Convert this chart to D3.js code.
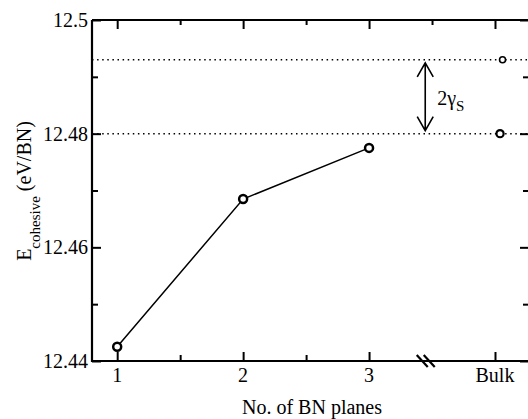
<!DOCTYPE html>
<html lang="en">
<head>
<meta charset="utf-8">
<script src="https://cdn.jsdelivr.net/npm/d3@7"></script>
<style>
  body { margin: 0; background: #fff; }
  svg text { font-family: "Liberation Serif", "Times New Roman", Times, "DejaVu Serif", serif; }
</style>
</head>
<body>
<script>
// data
var planes = [1, 2, 3];
var energy = [12.4425, 12.4685, 12.4775];
var bulkX = [4.06, 4.04];
var bulkE = [12.493, 12.48];
var refLines = [12.493, 12.48];
var xMajor = [1, 2, 3, 4];
var xLabels = ["1", "2", "3", "Bulk"];
var xMinor = [1.5, 2.5];
var yMajor = [12.44, 12.46, 12.48, 12.5];
var yLabels = ["12.44", "12.46", "12.48", "12.5"];
var yMinor = [12.45, 12.47, 12.49];
var breakAt = 3.45;

var W = 528, H = 419;
var padLeft = 92, padTop = 20, padRight = 529, padBottom = 361;
var serif = "'Liberation Serif', 'Times New Roman', Times, 'DejaVu Serif', serif";

var svg = d3.select("body").append("svg")
    .attr("width", W)
    .attr("height", H)
    .style("display", "block");

var x = d3.scaleLinear().domain([0.8, 4.27]).range([padLeft, padRight]);
var y = d3.scaleLinear().domain([12.44, 12.5]).range([padBottom, padTop]);

/*
  dotted reference lines
*/
svg.selectAll(".ref")
    .data(refLines)
    .enter()
    .append("line")
    .attr("class", "ref")
    .attr("x1", padLeft)
    .attr("x2", W)
    .attr("y1", function(d){ return y(d); })
    .attr("y2", function(d){ return y(d); })
    .style("stroke", "#000")
    .style("stroke-width", 1.5)
    .style("stroke-dasharray", "1.5,3.6");

/*
  axes: bottom/left with labels, top/right with ticks only
*/
function tickAxis(axis, size, vals) {
    return axis.tickValues(vals).tickSize(size).tickFormat("");
}

var bottomAxis = svg.append("g").attr("transform", "translate(0," + padBottom + ")");
bottomAxis.call(tickAxis(d3.axisTop(x), 9, xMajor));
bottomAxis.append("g").call(tickAxis(d3.axisTop(x), 6, xMinor));

var topAxis = svg.append("g").attr("transform", "translate(0," + padTop + ")");
topAxis.call(tickAxis(d3.axisBottom(x), 9, [1, 2, 3, 4]));
topAxis.append("g").call(tickAxis(d3.axisBottom(x), 5, [1.5, 2.5, 3.5]));

var leftAxis = svg.append("g").attr("transform", "translate(" + padLeft + ",0)");
leftAxis.call(tickAxis(d3.axisRight(y), 9, yMajor));
leftAxis.append("g").call(tickAxis(d3.axisRight(y), 6, yMinor));

var rightAxis = svg.append("g").attr("transform", "translate(" + padRight + ",0)");
rightAxis.call(tickAxis(d3.axisLeft(y), 9, yMajor));
rightAxis.append("g").call(tickAxis(d3.axisLeft(y), 6, yMinor));

svg.selectAll(".domain").remove();
svg.selectAll(".tick line").style("stroke", "#000").style("stroke-width", 2);

// frame
svg.append("path")
    .attr("d", "M" + padLeft + "," + padTop + "H" + padRight +
               "M" + padLeft + "," + padTop + "V" + padBottom + "H" + padRight)
    .style("fill", "none")
    .style("stroke", "#000")
    .style("stroke-width", 2.2);

// tick labels
svg.selectAll(".xlab")
    .data(xMajor)
    .enter()
    .append("text")
    .attr("x", function(d){ return x(d); })
    .attr("y", 382)
    .attr("text-anchor", "middle")
    .style("font-family", serif)
    .style("font-size", "20px")
    .text(function(d, i){ return xLabels[i]; });

svg.selectAll(".ylab")
    .data(yMajor)
    .enter()
    .append("text")
    .attr("x", padLeft - 4)
    .attr("y", function(d){ return y(d); })
    .attr("dy", "0.35em")
    .attr("text-anchor", "end")
    .style("font-family", serif)
    .style("font-size", "20px")
    .text(function(d, i){ return yLabels[i]; });

// axis break marks
var bx = x(breakAt);
[-3.5, 3.5].forEach(function(off){
    svg.append("line")
        .attr("x1", bx + off - 5.5)
        .attr("y1", padBottom - 6)
        .attr("x2", bx + off + 5.5)
        .attr("y2", padBottom + 6)
        .style("stroke", "#000")
        .style("stroke-width", 2.2);
});

/*
  data line and markers
*/
var pts = planes.map(function(p, i){ return [p, energy[i]]; });
svg.append("path")
    .datum(pts)
    .attr("d", d3.line().x(function(d){ return x(d[0]); }).y(function(d){ return y(d[1]); }))
    .style("fill", "none")
    .style("stroke", "#000")
    .style("stroke-width", 1.5);

svg.selectAll(".pt")
    .data(pts)
    .enter()
    .append("circle")
    .attr("cx", function(d){ return x(d[0]); })
    .attr("cy", function(d){ return y(d[1]); })
    .attr("r", 4)
    .style("fill", "#fff")
    .style("stroke", "#000")
    .style("stroke-width", 2.5);

svg.selectAll(".bulk")
    .data(bulkX)
    .enter()
    .append("circle")
    .attr("cx", function(d){ return x(d); })
    .attr("cy", function(d, i){ return y(bulkE[i]); })
    .attr("r", function(d, i){ return i === 0 ? 3 : 3.6; })
    .style("fill", "#fff")
    .style("stroke", "#000")
    .style("stroke-width", function(d, i){ return i === 0 ? 1.6 : 2.2; });

/*
  double arrow for 2 gamma_s
*/
var ax = x(breakAt) - 0.5;
var ay1 = y(refLines[0]) + 3, ay2 = y(refLines[1]) - 3;
svg.append("path")
    .attr("d", "M" + ax + "," + ay1 + "V" + ay2 +
               "M" + (ax - 8) + "," + (ay1 + 14) + "L" + ax + "," + ay1 + "L" + (ax + 8) + "," + (ay1 + 14) +
               "M" + (ax - 8) + "," + (ay2 - 14) + "L" + ax + "," + ay2 + "L" + (ax + 8) + "," + (ay2 - 14))
    .style("fill", "none")
    .style("stroke", "#000")
    .style("stroke-width", 1.6);

var gl = svg.append("text")
    .attr("x", ax + 12)
    .attr("y", 105)
    .style("font-family", serif)
    .style("font-size", "20px");
gl.append("tspan").text("2γ");
gl.append("tspan").attr("dy", 6).style("font-size", "15px").text("S");

/*
  axis titles
*/
svg.append("text")
    .attr("x", 312)
    .attr("y", 414)
    .attr("text-anchor", "middle")
    .style("font-family", serif)
    .style("font-size", "20px")
    .text("No. of BN planes");

var yt = svg.append("text")
    .attr("transform", "translate(31,191) rotate(-90)")
    .attr("text-anchor", "middle")
    .style("font-family", serif)
    .style("font-size", "20px");
yt.append("tspan").text("E");
yt.append("tspan").attr("dy", 9).style("font-size", "15px").text("cohesive");
yt.append("tspan").attr("dy", -9).text(" (eV/BN)");
</script>
</body>
</html>
